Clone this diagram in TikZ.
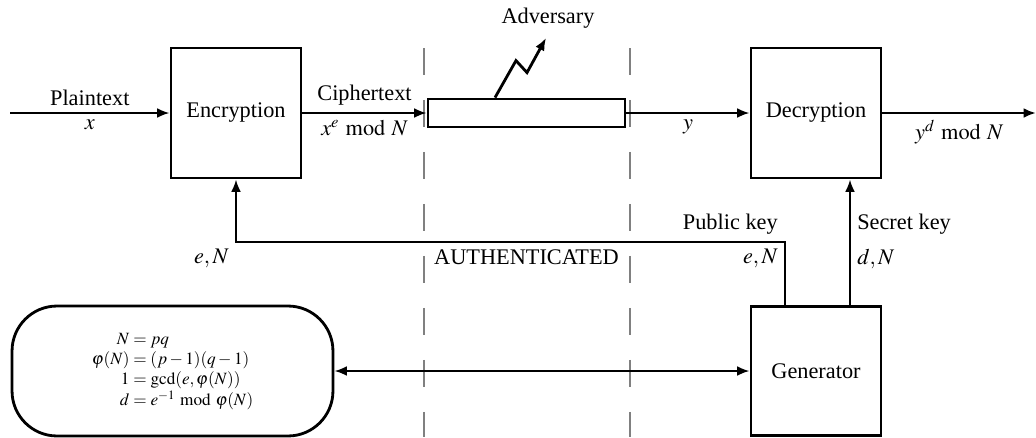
\documentclass[tikz,border=0pt]{standalone}
\usepackage{amsmath}
\usepackage{mathptmx}
\usepackage{fontspec}
\setmainfont{Liberation Serif}
\usetikzlibrary{arrows.meta,calc}

\begin{document}
\begin{tikzpicture}[x=0.02cm,y=-0.02cm,
        font=\fontsize{12.7}{15}\selectfont,
        line width=1.6pt,
        >={Latex[length=0.25cm,width=0.2cm]},
        block/.style={draw,minimum width=2.6cm,minimum height=2.6cm},
        fence/.style={draw=gray,line width=0.75pt,dash pattern=on 0.54cm off 0.5cm}]
        \useasboundingbox (0,0) rectangle (1036,437);
        % channel boundaries
        \draw[fence] (424,48) -- (424,437);
        \draw[fence] (630,48) -- (630,437);
        \node[block] (enc) at (236,113) {\raisebox{-2pt}{Encryption}};
        \node[block] (dec) at (816,113) {\raisebox{-2pt}{Decryption}};
        \node[block,minimum height=2.58cm] (gen) at (816,371) {Generator};
        \node[draw,minimum width=3.94cm,minimum height=0.56cm,inner sep=0pt] (chan) at (526.5,113) {};
        \node[draw,rounded corners=0.9cm,minimum width=6.42cm,minimum height=2.6cm] (param) at (172.5,371)
          {\fontsize{9.8}{11.4}\selectfont$\begin{array}{r@{}l}
            N & {}= pq\\
            \varphi(N) & {}= (p-1)(q-1)\\
            1 & {}= \gcd(e,\varphi(N))\\
            d & {}= e^{-1} \bmod \varphi(N)
          \end{array}$};
        \coordinate (in) at (10,113);
        \coordinate (out) at (1036,113);
        \draw[->] (in) -- node[above] {Plaintext} node[below] {$x$} (enc);
        \draw[->] (enc) -- node[above] {Ciphertext} node[below] {$x^e \bmod N$} (chan);
        \draw[->] (chan) -- node[below] {$y$} (dec);
        \draw[->] (dec) -- node[below] {$y^d \bmod N$} (out);
        % eavesdropper
        \coordinate (hit) at ($(chan.north)+(-31.5,0)$);
        \coordinate (advtip) at (546,38);
        \node (adv) at (548,18) {Adversary};
        \draw[->] (hit) -- ++(21,-37) -- ++(11,12) -- (advtip);
        % keys
        \coordinate (pkbend) at (785,242);
        \coordinate (skbend) at (850,242);
        \coordinate (pkcorner) at (enc.south |- pkbend);
        \draw[->] (gen.north -| pkbend) -- (pkbend) -| (enc.south);
        \draw[->] (gen.north -| skbend) -- (dec.south -| skbend);
        \node[above left] at (pkbend) {Public key};
        \node[below left] at (pkbend) {$e,N$};
        \node[above right] at (skbend) {Secret key};
        \node[below right] at (skbend) {$d,N$};
        \node[below left] at (pkcorner) {$e,N$};
        \node[below] at (chan |- pkbend) {AUTHENTICATED};
        \draw[<->] (param) -- (gen);
    \end{tikzpicture}
\end{document}
